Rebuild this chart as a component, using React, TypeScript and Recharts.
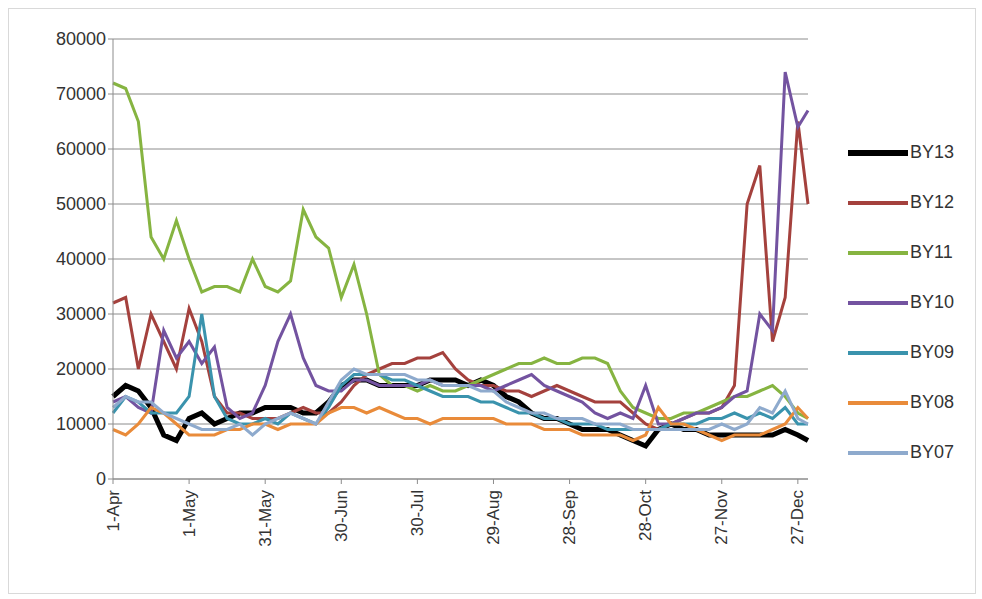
import React from "react";
import { LineChart, Line, XAxis, YAxis, CartesianGrid } from "recharts";

const days = [0,5,10,15,20,25,30,35,40,45,50,55,60,65,70,75,80,85,90,95,100,105,110,115,120,125,130,135,140,145,150,155,160,165,170,175,180,185,190,195,200,205,210,215,220,225,230,235,240,245,250,255,260,265,270,274];
const tickDays = [0,30,60,90,120,150,180,210,240,270];
const tickLabels = ["1-Apr","1-May","31-May","30-Jun","30-Jul","29-Aug","28-Sep","28-Oct","27-Nov","27-Dec"];

const BY13 = [15,17,16,13,8,7,11,12,10,11,12,12,13,13,13,12,12,14,17,18,18,17,17,17,17,18,18,18,17,18,17,15,14,12,11,11,10,9,9,9,8,7,6,9,10,9,9,8,8,8,8,8,8,9,8,7];
const BY12 = [32,33,20,30,25,20,31,25,15,12,12,11,11,11,12,13,12,12,14,17,19,20,21,21,22,22,23,20,18,17,17,16,16,15,16,17,16,15,14,14,14,12,10,9,10,11,12,12,13,17,50,57,25,33,65,50];
const BY11 = [72,71,65,44,40,47,40,34,35,35,34,40,35,34,36,49,44,42,33,39,30,19,17,17,16,17,16,16,17,18,19,20,21,21,22,21,21,22,22,21,16,13,12,11,11,12,12,13,14,15,15,16,17,15,12,11];
const BY10 = [14,15,13,12,27,22,25,21,24,13,11,12,17,25,30,22,17,16,16,18,18,17,17,17,17,18,17,17,17,17,16,17,18,19,17,16,15,14,12,11,12,11,17,10,10,11,12,12,13,15,16,30,27,74,64,67];
const BY09 = [12,15,14,12,12,12,15,30,15,11,10,10,11,10,12,11,10,13,17,19,19,19,18,18,17,16,15,15,15,14,14,13,12,12,11,11,10,10,10,9,9,9,9,9,10,10,10,11,11,12,11,12,11,13,10,10];
const BY08 = [9,8,10,13,12,10,8,8,8,9,9,10,10,9,10,10,10,12,13,13,12,13,12,11,11,10,11,11,11,11,11,10,10,10,9,9,9,8,8,8,8,7,8,13,10,10,9,8,7,8,8,8,9,10,13,11];
const BY07 = [13,15,14,14,12,11,10,9,9,9,10,8,10,11,12,11,10,14,18,20,19,19,19,19,18,18,17,17,17,16,16,14,13,12,12,11,11,11,10,10,10,9,9,9,9,9,9,9,10,9,10,13,12,16,11,10];

const seriesNames = ["BY13","BY12","BY11","BY10","BY09","BY08","BY07"];
const seriesValues = [BY13,BY12,BY11,BY10,BY09,BY08,BY07];
const colors = ["#000000","#a4413d","#86b441","#7353a0","#3a93ad","#e98b3a","#8eaacd"];
const widths = [5,3,3,3,3,3,3];

const data = days.map((d, i) => {
  const row: any = { day: d };
  seriesNames.forEach((n, s) => { row[n] = seriesValues[s][i] * 1000; });
  return row;
});

const font = "'Liberation Sans', Arial, sans-serif";

const XTick = (props: any) => {
  const { x, y, payload } = props;
  const idx = tickDays.indexOf(payload.value);
  return (
    <text x={x} y={y + 4} transform={`rotate(-90 ${x} ${y + 4})`} textAnchor="end" dominantBaseline="central" fontSize={17} fill="#333" fontFamily={font}>
      {tickLabels[idx]}
    </text>
  );
};

export default function App() {
  return (
    <div style={{ position: "absolute", left: 0, top: 0, width: 982, height: 599, background: "#fff", fontFamily: font }}>
      <div style={{ position: "absolute", left: 8, top: 8, width: 966, height: 584, border: "1px solid #d9d9d9" }} />
      <LineChart width={982} height={599} data={data} margin={{ top: 39, right: 174, left: 0, bottom: 40 }}>
        <CartesianGrid horizontal vertical={false} stroke="#8c8c8c" />
        <XAxis dataKey="day" type="number" domain={[0, 274]} ticks={tickDays} tick={<XTick />} height={80} interval={0} stroke="#8c8c8c" tickSize={5} />
        <YAxis domain={[0, 80000]} ticks={[0,10000,20000,30000,40000,50000,60000,70000,80000]} width={113} stroke="#8c8c8c" tick={{ fontSize: 18, fill: "#333", fontFamily: font }} tickSize={5} />
        {seriesNames.map((n, s) => (
          <Line key={n} type="linear" dataKey={n} stroke={colors[s]} strokeWidth={widths[s]} dot={false} isAnimationActive={false} />
        ))}
      </LineChart>
      {seriesNames.map((n, s) => (
        <div key={n} style={{ position: "absolute", left: 848, top: 142 + s * 50, display: "flex", alignItems: "center", fontSize: 18, color: "#333" }}>
          <div style={{ width: 60, height: widths[s] + 1, background: colors[s], marginRight: 2 }} />
          <span>{n}</span>
        </div>
      ))}
    </div>
  );
}
